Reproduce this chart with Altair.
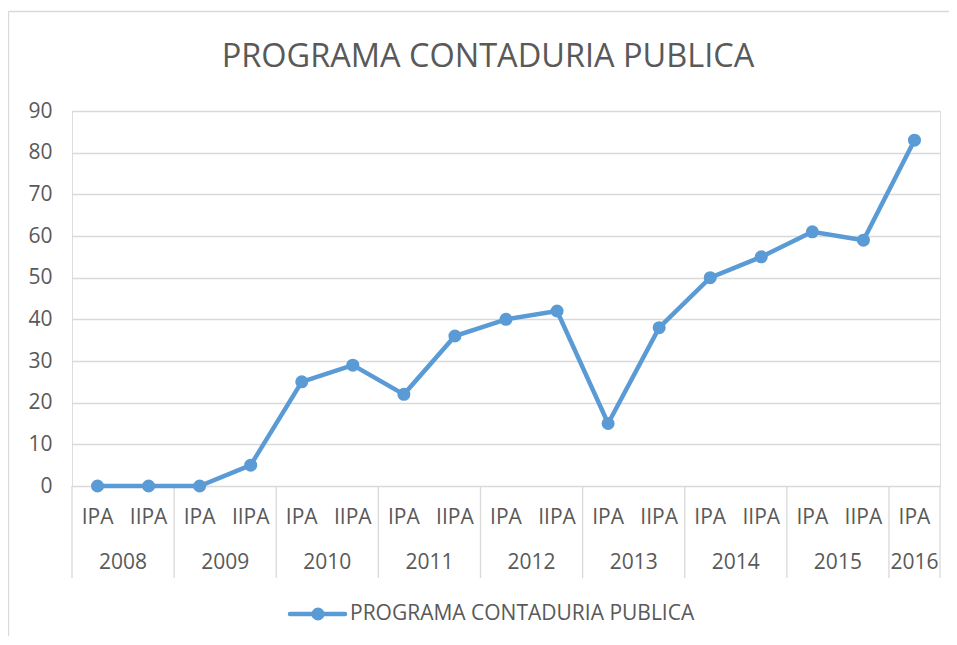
import altair as alt
import pandas as pd

# ---- data ----
years = ["2008", "2008", "2009", "2009", "2010", "2010", "2011", "2011", "2012", "2012",
         "2013", "2013", "2014", "2014", "2015", "2015", "2016"]
periods = ["IPA", "IIPA", "IPA", "IIPA", "IPA", "IIPA", "IPA", "IIPA", "IPA", "IIPA",
           "IPA", "IIPA", "IPA", "IIPA", "IPA", "IIPA", "IPA"]
values = [0, 0, 0, 5, 25, 29, 22, 36, 40, 42, 15, 38, 50, 55, 61, 59, 83]
year_labels = ["2008", "2009", "2010", "2011", "2012", "2013", "2014", "2015", "2016"]
y_ticks = [0, 10, 20, 30, 40, 50, 60, 70, 80, 90]
series_name = "PROGRAMA CONTADURIA PUBLICA"

# ---- tables ----
df = pd.DataFrame({"idx": list(range(len(values))), "year": years,
                   "period": periods, "value": values})
year_df = df.groupby("year", as_index=False).agg(center=("idx", "mean"), last=("idx", "max"))
bounds = [-0.5] + [v + 0.5 for v in year_df["last"].tolist()]
bound_df = pd.DataFrame({"b": bounds})
legend_df = pd.DataFrame({"name": [series_name]})
title_df = pd.DataFrame({"t": [series_name]})

W, H = 868, 375
BLUE = "#5B9BD5"
GRID = "#D9D9D9"
TXT = "#595959"
FONT = "Open Sans"
FS = 21

xscale = alt.Scale(domain=[-0.5, len(values) - 0.5], nice=False, zero=False)
yscale = alt.Scale(domain=[0, 90], nice=False)

line = alt.Chart(df).mark_line(color=BLUE, strokeWidth=4.5, point=alt.OverlayMarkDef(
    filled=True, color=BLUE, size=170, opacity=1)).encode(
    x=alt.X("idx:Q", scale=xscale, axis=None),
    y=alt.Y("value:Q", scale=yscale, axis=alt.Axis(
        values=y_ticks, grid=True, gridColor=GRID, gridWidth=1.3, domain=False,
        ticks=False, labelPadding=20, labelFontSize=FS, labelColor=TXT,
        labelFont=FONT, title=None)),
)

seps = alt.Chart(bound_df).mark_rule(color=GRID, strokeWidth=1.3).encode(
    x=alt.X("b:Q", scale=xscale, axis=None),
    y=alt.value(H), y2=alt.value(H + 92),
)

period_text = alt.Chart(df).mark_text(fontSize=FS, font=FONT, color=TXT,
                                      baseline="middle", align="center").encode(
    x=alt.X("idx:Q", scale=xscale, axis=None),
    y=alt.value(H + 32), text="period:N",
)

year_text = alt.Chart(year_df).mark_text(fontSize=FS, font=FONT, color=TXT,
                                         baseline="middle", align="center").encode(
    x=alt.X("center:Q", scale=xscale, axis=None),
    y=alt.value(H + 77), text="year:N",
)

leg_line = alt.Chart(legend_df).mark_rule(color=BLUE, strokeWidth=4.5, strokeCap="round").encode(
    x=alt.value(218), x2=alt.value(273), y=alt.value(H + 128))
leg_pt = alt.Chart(legend_df).mark_point(filled=True, color=BLUE, size=170, opacity=1).encode(
    x=alt.value(246), y=alt.value(H + 128))
leg_txt = alt.Chart(legend_df).mark_text(fontSize=FS, font=FONT, color=TXT,
                                         baseline="middle", align="left").encode(
    x=alt.value(278), y=alt.value(H + 128), text="name:N")

title = alt.Chart(title_df).mark_text(fontSize=32.5, font=FONT, color=TXT,
                                      baseline="alphabetic", align="center").encode(
    x=alt.value(416), y=alt.value(-44), text="t:N")

frame_top = alt.Chart(legend_df).mark_rule(color=GRID, strokeWidth=1.3).encode(
    x=alt.value(-63.5), x2=alt.value(900), y=alt.value(-99.5))
frame_left = alt.Chart(legend_df).mark_rule(color=GRID, strokeWidth=1.3).encode(
    x=alt.value(-63.5), y=alt.value(-99.5), y2=alt.value(H + 200))

chart = alt.layer(frame_top, frame_left, seps, line, period_text, year_text,
                  leg_line, leg_pt, leg_txt, title).properties(
    width=W, height=H,
    autosize=alt.AutoSizeParams(type="none"),
    padding={"left": 64, "top": 103, "right": 9, "bottom": 150},
).configure_view(stroke=None).configure(background="white")

chart.save("out.html", embed_options={"renderer": "svg", "actions": False})
